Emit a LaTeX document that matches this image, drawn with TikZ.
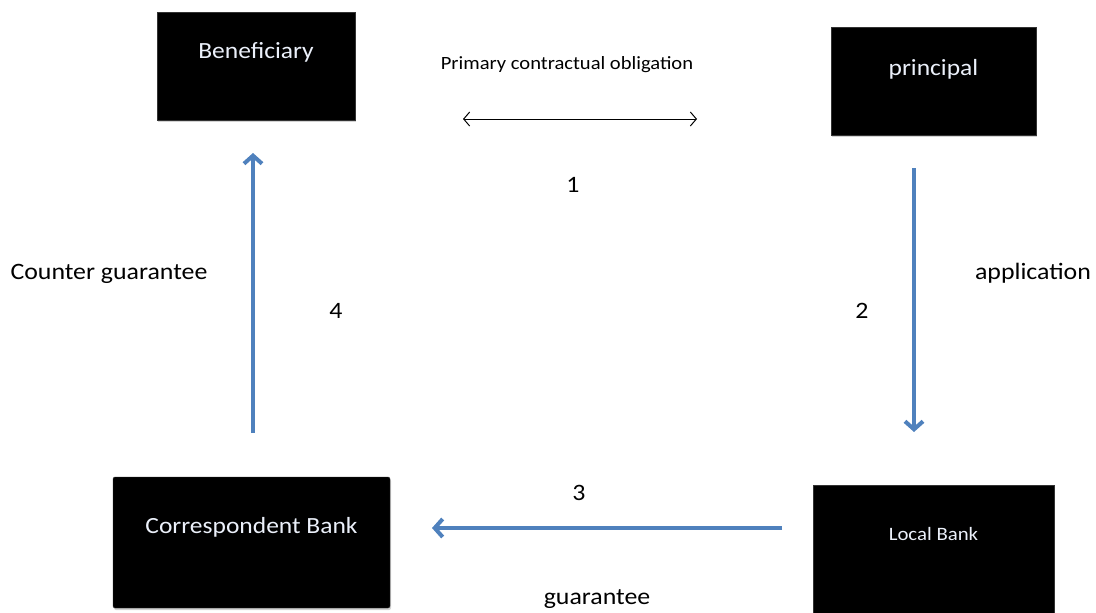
\documentclass[tikz,border=0pt]{standalone}
\usepackage{fontspec}
\setmainfont{Carlito}[FakeStretch=1.1]
\usetikzlibrary{arrows.meta,shadows}
\definecolor{arrblue}{RGB}{79,129,189}
\definecolor{txtwhite}{RGB}{235,240,250}
\tikzset{
  box/.style={fill=black, draw=black!80, inner sep=0pt, drop shadow={opacity=0.35, shadow xshift=1pt, shadow yshift=-2pt}},
  boxtext/.style={text=txtwhite, inner sep=0pt, font=\fontsize{23.2}{27}\selectfont},
  lbl/.style={font=\fontsize{23.5}{27}\selectfont, inner sep=0pt},
  bluearrow/.style={draw=arrblue, line width=4.5pt, -{Straight Barb[length=8pt, width=18pt, line width=4pt]}},
  thinarrow/.style={draw=black, line width=1pt, {Straight Barb[length=6pt, width=14pt]}-{Straight Barb[length=6pt, width=14pt]}}
}
\begin{document}
\begin{tikzpicture}[x=1pt, y=-1pt]
\useasboundingbox (0,0) rectangle (1096,613);
% boxes
\node[box, minimum width=198pt, minimum height=108pt,
  label={[boxtext, yshift=14pt]center:Beneficiary}] (ben) at (256,66) {};
\node[box, minimum width=205pt, minimum height=108pt,
  label={[boxtext, yshift=11.5pt]center:principal}] (pri) at (933.5,81) {};
\node[box, rounded corners=2pt, minimum width=277pt, minimum height=131pt,
  label={[boxtext, yshift=15.5pt]center:Correspondent Bank}] (cor) at (251.5,542.5) {};
\node[box, minimum width=241pt, minimum height=128pt,
  label={[boxtext, font=\fontsize{18.9}{22}\selectfont, yshift=15pt]center:Local Bank}] (loc) at (933.5,549) {};
% arrow end coordinates
\coordinate (oblL) at (463,119);
\coordinate (oblR) at (697,119);
\coordinate (a2s) at (914,168);
\coordinate (a2e) at (914,432);
\coordinate (a3s) at (782,528);
\coordinate (a3e) at (432,528);
\coordinate (a4s) at (253,433);
\coordinate (a4e) at (253,153);
% connectors
\draw[thinarrow] (oblL) -- (oblR);
\draw[bluearrow] (a2s) -- (a2e);
\draw[bluearrow] (a3s) -- (a3e);
\draw[bluearrow] (a4s) -- (a4e);
% labels
\node[lbl, font=\fontsize{18.7}{22}\selectfont] (tobl) at (567,65) {Primary contractual obligation};
\node[lbl] (t1) at (573,185) {1};
\node[lbl] (tapp) at (1033,273) {application};
\node[lbl] (t2) at (862,311) {2};
\node[lbl] (t3) at (579,493) {3};
\node[lbl] (tgua) at (597,599) {guarantee};
\node[lbl] (tcg) at (109,274) {Counter guarantee};
\node[lbl] (t4) at (336,311) {4};
\end{tikzpicture}
\end{document}
